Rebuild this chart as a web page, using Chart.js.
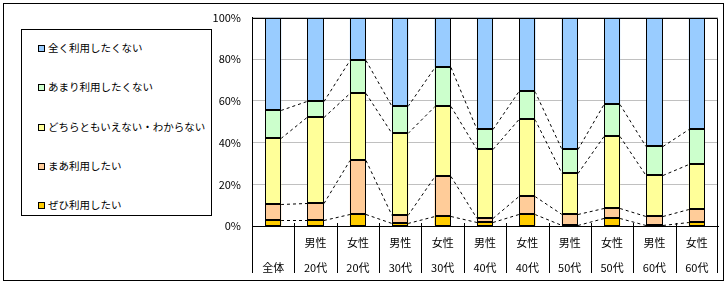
<!DOCTYPE html>
<html>
<head>
<meta charset="utf-8">
<script src="https://cdn.jsdelivr.net/npm/chart.js@4/dist/chart.umd.min.js"></script>
<style>
  html, body { margin: 0; padding: 0; background: #fff; }
  #wrap { position: relative; width: 728px; height: 284px; overflow: hidden; }
  #c { position: absolute; left: 0; top: 0; }
  #frame { position: absolute; left: 3px; top: 3px; width: 719px; height: 276px; border: 1px solid #000; pointer-events: none; }
  #legend { position: absolute; left: 21px; top: 29px; width: 189px; height: 185px; border: 1px solid #000; background: #fff;
            font-family: "Noto Sans CJK JP", sans-serif; font-size: 10.5px; color: #000; }
  .item { position: absolute; left: 16px; height: 14px; line-height: 14px; white-space: nowrap; }
  .sw { display: inline-block; width: 5px; height: 5px; border: 1px solid #000; margin-right: 3px; vertical-align: middle; position: relative; top: -1px; }
</style>
</head>
<body>
<div id="wrap">
  <canvas id="c" width="728" height="284"></canvas>
  <div id="legend"></div>
  <div id="frame"></div>
</div>
<script>
// ---- data ----
const categoryTop    = ['', '男性', '女性', '男性', '女性', '男性', '女性', '男性', '女性', '男性', '女性'];
const categoryBottom = ['全体', '20代', '20代', '30代', '30代', '40代', '40代', '50代', '50代', '60代', '60代'];
const seriesNames = ['ぜひ利用したい', 'まあ利用したい', 'どちらともいえない・わからない', 'あまり利用したくない', '全く利用したくない'];
const zehi    = [2.7, 2.7, 5.7, 1.6, 4.8, 1.9, 5.9, 0.3, 3.8, 0.3, 1.9];
const maa     = [8.0, 8.5, 25.9, 3.7, 19.3, 2.1, 8.6, 5.6, 4.8, 4.5, 6.1];
const dochira = [31.4, 41.1, 32.2, 39.2, 33.3, 33.0, 36.7, 19.5, 34.5, 19.8, 21.7];
const amari   = [13.4, 7.8, 15.8, 12.9, 18.7, 9.6, 13.4, 11.6, 15.3, 13.7, 16.9];
const mattaku = [44.5, 39.9, 20.4, 42.6, 23.9, 53.4, 35.4, 63.0, 41.6, 61.7, 53.4];
const yTicks  = [0, 20, 40, 60, 80, 100];

const colors = ['#FFCC00', '#FFCC99', '#FFFF99', '#CCFFCC', '#99CCFF'];
const values = [zehi, maa, dochira, amari, mattaku];

const labels = categoryTop.map((t, i) => [t, categoryBottom[i]]);
const FONT = '"Noto Sans CJK JP", sans-serif';

const datasets = values.map((v, k) => ({
  label: seriesNames[k],
  data: v,
  backgroundColor: colors[k],
  borderWidth: 0,
  barPercentage: 0.38,
  categoryPercentage: 1.0
}));

// series lines (dashed) connecting segment tops between adjacent bars
const seriesLines = {
  id: 'seriesLines',
  beforeDatasetsDraw(chart) {
    const ctx = chart.ctx;
    ctx.save();
    ctx.strokeStyle = '#000';
    ctx.lineWidth = 1;
    ctx.setLineDash([3, 3]);
    for (let d = 0; d < values.length - 1; d++) {
      const meta = chart.getDatasetMeta(d);
      for (let i = 0; i < meta.data.length - 1; i++) {
        const a = meta.data[i], b = meta.data[i + 1];
        ctx.beginPath();
        ctx.moveTo(Math.round(a.x + a.width / 2), Math.round(a.y) + 0.5);
        ctx.lineTo(Math.round(b.x - b.width / 2), Math.round(b.y) + 0.5);
        ctx.stroke();
      }
    }
    ctx.restore();
  }
};

// crisp black outlines around every bar segment
const barOutlines = {
  id: 'barOutlines',
  afterDatasetsDraw(chart) {
    const ctx = chart.ctx;
    ctx.save();
    ctx.strokeStyle = '#000';
    ctx.lineWidth = 1;
    for (let d = 0; d < values.length; d++) {
      const meta = chart.getDatasetMeta(d);
      meta.data.forEach(el => {
        const l = Math.round(el.x - el.width / 2), r = Math.round(el.x + el.width / 2);
        const t = Math.round(Math.min(el.y, el.base)), b = Math.round(Math.max(el.y, el.base));
        if (b - t >= 2) {
          ctx.strokeRect(l + 0.5, t + 0.5, r - l - 1, b - t - 1);
        } else {
          ctx.fillStyle = '#000';
          ctx.fillRect(l, t, r - l, Math.max(1, b - t));
        }
      });
    }
    ctx.restore();
  }
};

// plot frame (top/right) and data-table separators below the axis
const tableFrame = {
  id: 'tableFrame',
  afterDraw(chart) {
    const ctx = chart.ctx, ca = chart.chartArea, xs = chart.scales.x;
    ctx.save();
    ctx.strokeStyle = '#000';
    ctx.lineWidth = 1;
    ctx.beginPath();
    ctx.moveTo(Math.round(ca.left) + 0.5, Math.round(ca.top) + 0.5);
    ctx.lineTo(Math.round(ca.right) - 0.5, Math.round(ca.top) + 0.5);
    ctx.lineTo(Math.round(ca.right) - 0.5, Math.round(ca.bottom));
    ctx.stroke();
    const n = categoryBottom.length;
    for (let i = 0; i <= n; i++) {
      let x;
      if (i === 0) x = Math.round(ca.left) + 0.5;
      else if (i === n) x = Math.round(ca.right) - 0.5;
      else x = Math.round((xs.getPixelForValue(i - 1) + xs.getPixelForValue(i)) / 2) + 0.5;
      ctx.beginPath();
      ctx.moveTo(x, ca.bottom - 3);
      ctx.lineTo(x, ca.bottom + 47);
      ctx.stroke();
    }
    ctx.restore();
  }
};

new Chart(document.getElementById('c'), {
  type: 'bar',
  data: { labels, datasets },
  options: {
    responsive: false,
    animation: false,
    events: [],
    layout: { padding: { left: 0, top: 17, right: 10, bottom: 0 } },
    plugins: { legend: { display: false }, tooltip: { enabled: false } },
    scales: {
      x: {
        stacked: true,
        offset: true,
        grid: { display: false, drawTicks: false },
        border: { display: true, color: '#000', width: 1 },
        ticks: {
          color: '#000',
          font: { family: FONT, size: 11, lineHeight: '25px' },
          padding: 4.5,
          maxRotation: 0,
          autoSkip: false
        },
        afterFit(scale) { scale.height = 58; }
      },
      y: {
        stacked: true,
        min: 0,
        max: 100,
        afterBuildTicks(scale) { scale.ticks = yTicks.map(v => ({ value: v })); },
        grid: { color: '#C0C0C0', drawTicks: false },
        border: { display: true, color: '#000', width: 1 },
        ticks: {
          color: '#000',
          font: { family: FONT, size: 11 },
          padding: 11,
          callback: v => v + '%'
        },
        afterFit(scale) { scale.width = 252; }
      }
    }
  },
  plugins: [seriesLines, barOutlines, tableFrame]
});

// legend (top item = last series)
const legend = document.getElementById('legend');
const rowTops = [11, 50, 90, 129, 168];
for (let k = values.length - 1, r = 0; k >= 0; k--, r++) {
  const div = document.createElement('div');
  div.className = 'item';
  div.style.top = rowTops[r] + 'px';
  const sw = document.createElement('span');
  sw.className = 'sw';
  sw.style.background = colors[k];
  div.appendChild(sw);
  div.appendChild(document.createTextNode(seriesNames[k]));
  legend.appendChild(div);
}
</script>
</body>
</html>
